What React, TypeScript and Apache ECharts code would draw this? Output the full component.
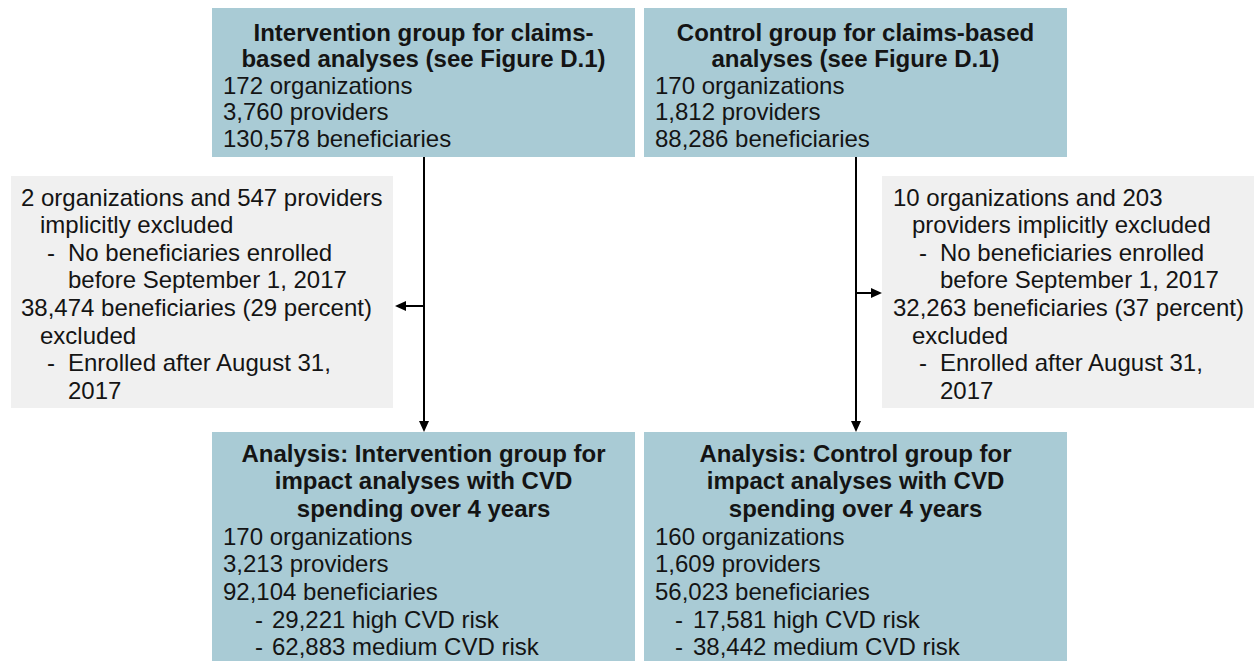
import React, { useEffect, useRef } from "react";
import * as echarts from "echarts";

// ---- Data (texts of the flow chart) ----
const topLeftTitle = ["Intervention group for claims-", "based analyses (see Figure D.1)"];
const topLeftLines = ["172 organizations", "3,760 providers", "130,578 beneficiaries"];
const topRightTitle = ["Control group for claims-based", "analyses (see Figure D.1)"];
const topRightLines = ["170 organizations", "1,812 providers", "88,286 beneficiaries"];

const leftExclLines = [
  "2 organizations and 547 providers",
  "implicitly excluded",
  "- No beneficiaries enrolled",
  "before September 1, 2017",
  "38,474 beneficiaries (29 percent)",
  "excluded",
  "- Enrolled after August 31,",
  "2017",
];
const rightExclLines = [
  "10 organizations and 203",
  "providers implicitly excluded",
  "- No beneficiaries enrolled",
  "before September 1, 2017",
  "32,263 beneficiaries (37 percent)",
  "excluded",
  "- Enrolled after August 31,",
  "2017",
];

const bottomLeftTitle = ["Analysis: Intervention group for", "impact analyses with CVD", "spending over 4 years"];
const bottomLeftLines = ["170 organizations", "3,213 providers", "92,104 beneficiaries", "- 29,221 high CVD risk", "- 62,883 medium CVD risk"];
const bottomRightTitle = ["Analysis: Control group for", "impact analyses with CVD", "spending over 4 years"];
const bottomRightLines = ["160 organizations", "1,609 providers", "56,023 beneficiaries", "- 17,581 high CVD risk", "- 38,442 medium CVD risk"];

// ---- Layout / style ----
const BLUE = "#a9cbd5";
const GREY = "#f0f0f0";
const INK = "#141414";
const FONT = "'Liberation Sans', Arial, sans-serif";
const FS = 24;

// indentation levels for exclusion boxes: 0 = base, 1 = hanging, 2 = bullet, 3 = bullet continuation
const exclLevels = [0, 1, 2, 3, 0, 1, 2, 3];

function txt(x: number, y: number, text: string, bold = false, align = "left") {
  return {
    type: "text",
    x,
    y,
    silent: true,
    style: {
      text,
      fill: INK,
      font: `${bold ? "bold " : ""}${FS}px ${FONT}`,
      textAlign: align,
      textVerticalAlign: "middle",
    },
  };
}

function blueBox(
  x: number, y: number, w: number, h: number,
  title: string[], lines: string[], y0: number, step: number,
  textX: number, dashX: number, bulletX: number
) {
  const els: any[] = [
    { type: "rect", shape: { x, y, width: w, height: h }, style: { fill: BLUE }, silent: true },
  ];
  const cx = x + w / 2;
  title.forEach((t, i) => els.push(txt(cx, y0 + i * step, t, true, "center")));
  lines.forEach((t, j) => {
    const yy = y0 + (title.length + j) * step;
    if (t.startsWith("- ")) {
      els.push(txt(dashX, yy, "-"));
      els.push(txt(bulletX, yy, t.slice(2)));
    } else {
      els.push(txt(textX, yy, t));
    }
  });
  return els;
}

function greyBox(x: number, y: number, w: number, h: number, lines: string[], baseX: number, y0: number, step: number) {
  const els: any[] = [
    { type: "rect", shape: { x, y, width: w, height: h }, style: { fill: GREY }, silent: true },
  ];
  const offs = [0, 19, 47, 47];
  lines.forEach((t, i) => {
    const lv = exclLevels[i];
    const yy = y0 + i * step;
    if (lv === 2 && t.startsWith("- ")) {
      els.push(txt(baseX + 26, yy, "-"));
      els.push(txt(baseX + offs[2], yy, t.slice(2)));
    } else {
      els.push(txt(baseX + offs[lv], yy, t));
    }
  });
  return els;
}

function arrowHead(tipX: number, tipY: number, dir: "left" | "right" | "down") {
  const L = 11, W = 5;
  let pts: number[][];
  if (dir === "left") pts = [[tipX, tipY], [tipX + L, tipY - W], [tipX + L, tipY + W]];
  else if (dir === "right") pts = [[tipX, tipY], [tipX - L, tipY - W], [tipX - L, tipY + W]];
  else pts = [[tipX, tipY], [tipX - W, tipY - L], [tipX + W, tipY - L]];
  return { type: "polygon", shape: { points: pts }, style: { fill: "#000" }, silent: true };
}

function line(x1: number, y1: number, x2: number, y2: number) {
  return { type: "line", shape: { x1, y1, x2, y2 }, style: { stroke: "#000", lineWidth: 2 }, silent: true };
}

export default function App() {
  const ref = useRef<HTMLDivElement>(null);
  useEffect(() => {
    if (!ref.current) return;
    const chart = echarts.init(ref.current, undefined, { renderer: "svg" });
    const elements: any[] = [
      ...blueBox(212, 8, 423, 149, topLeftTitle, topLeftLines, 32, 26.5, 223, 0, 0),
      ...blueBox(644, 8, 423, 149, topRightTitle, topRightLines, 32, 26.5, 655, 0, 0),
      ...greyBox(11, 176, 382, 232, leftExclLines, 21, 197, 27.6),
      ...greyBox(882, 176, 372, 232, rightExclLines, 893, 197, 27.6),
      ...blueBox(212, 432, 423, 260, bottomLeftTitle, bottomLeftLines, 453, 27.7, 223, 255, 272),
      ...blueBox(644, 432, 423, 260, bottomRightTitle, bottomRightLines, 453, 27.7, 655, 675, 693),
      // connectors
      line(424, 157, 424, 422),
      arrowHead(424, 432, "down"),
      line(424, 306, 405, 306),
      arrowHead(395, 306, "left"),
      line(856, 157, 856, 422),
      arrowHead(856, 432, "down"),
      line(856, 293, 872, 293),
      arrowHead(882, 293, "right"),
    ];
    chart.setOption({
      animation: false,
      backgroundColor: "#ffffff",
      graphic: { elements },
    });
    return () => chart.dispose();
  }, []);
  return (
    <div
      ref={ref}
      style={{ position: "fixed", left: 0, top: 0, width: 1254, height: 661 }}
    />
  );
}
